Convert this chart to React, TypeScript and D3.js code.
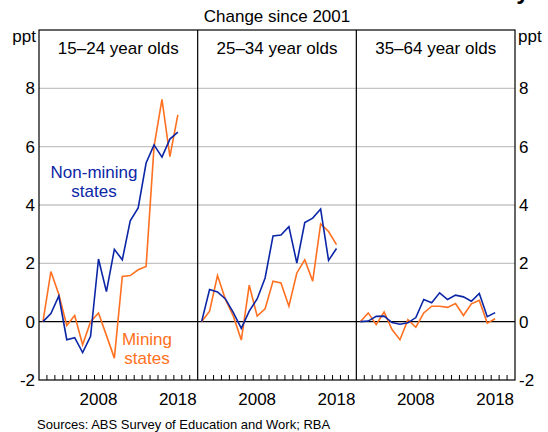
import React from "react";
import * as d3 from "d3";

const years = d3.range(2001, 2019);
const panelTitles = ["15–24 year olds", "25–34 year olds", "35–64 year olds"];

const nonMining15 = [0, 0.28, 0.88, -0.62, -0.55, -1.06, -0.5, 2.15, 1.03, 2.48, 2.12, 3.46, 3.9, 5.44, 6.06, 5.64, 6.26, 6.5];
const mining15 = [0, 1.72, 0.93, -0.13, 0.21, -0.79, 0.0, 0.3, -0.47, -1.25, 1.55, 1.58, 1.78, 1.89, 6.0, 7.62, 5.66, 7.09];
const nonMining25 = [0, 1.1, 1.02, 0.78, 0.31, -0.23, 0.36, 0.78, 1.5, 2.94, 2.97, 3.26, 2.01, 3.4, 3.55, 3.86, 2.1, 2.51];
const mining25 = [0, 0.36, 1.58, 0.76, 0.19, -0.63, 1.25, 0.19, 0.44, 1.39, 1.33, 0.53, 1.67, 2.12, 1.39, 3.35, 3.09, 2.64];
const nonMining35 = [0, 0.02, 0.18, 0.19, -0.03, -0.09, -0.04, 0.14, 0.76, 0.65, 0.99, 0.76, 0.91, 0.85, 0.7, 0.97, 0.17, 0.31];
const mining35 = [0, 0.3, -0.1, 0.33, -0.27, -0.62, 0.07, -0.19, 0.3, 0.53, 0.53, 0.49, 0.62, 0.21, 0.61, 0.73, -0.05, 0.1];

const nonMining = [nonMining15, nonMining25, nonMining35];
const mining = [mining15, mining25, mining35];

const yTicks = [-2, 0, 2, 4, 6, 8];
const gridTicks = [2, 4, 6, 8];
const xLabelYears = [2008, 2018];
const xTickYears = d3.range(2001.5, 2020, 1);

const BLUE = "#0b26a6";
const ORANGE = "#ff7020";
const FONT = "Arial, 'Liberation Sans', sans-serif";

export default function App() {
  const W = 548, H = 432;
  const left = 39, right = 515, top = 30, bottom = 380;
  const pw = (right - left) / 3;
  const y = d3.scaleLinear().domain([-2, 10]).range([bottom, top]);
  const xs = [0, 1, 2].map((i) =>
    d3.scaleLinear().domain([2000.5, 2020.5]).range([left + i * pw, left + (i + 1) * pw])
  );

  return (
    <div style={{ position: "absolute", left: 0, top: 0 }}>
      <svg width={W} height={H} style={{ display: "block", fontFamily: FONT }}>
        <rect x={0} y={0} width={W} height={H} fill="#fff" />
        {/* partial title descender */}
        <text x={523} y={-1.5} fontSize={24} fontWeight="bold" textAnchor="middle" fill="#000">y</text>
        <text x={277} y={22} fontSize={17} textAnchor="middle" fill="#000">Change since 2001</text>

        {gridTicks.map((t) => (
          <line key={"g" + t} x1={left} x2={right} y1={y(t)} y2={y(t)} stroke="#c4c4c4" strokeWidth={1.3} />
        ))}
        <line x1={left} x2={right} y1={y(0)} y2={y(0)} stroke="#000" strokeWidth={1.2} />

        {[0, 1, 2].map((i) => {
          const x = xs[i];
          const lineGen = d3
            .line<number>()
            .x((_, j) => x(years[j]))
            .y((v) => y(v));
          return (
            <g key={"p" + i}>
              <path d={lineGen(mining[i]) || ""} fill="none" stroke={ORANGE} strokeWidth={1.6} strokeLinejoin="miter" />
              <path d={lineGen(nonMining[i]) || ""} fill="none" stroke={BLUE} strokeWidth={1.6} strokeLinejoin="miter" />
              {xTickYears.map((t) => (
                <line key={"t" + t} x1={x(t)} x2={x(t)} y1={bottom} y2={bottom - 5} stroke="#000" strokeWidth={1} />
              ))}
              {xLabelYears.map((t) => (
                <text key={"xl" + t} x={x(t)} y={405} fontSize={17} textAnchor="middle" fill="#000">{t}</text>
              ))}
              <text x={left + (i + 0.5) * pw} y={54} fontSize={17} textAnchor="middle" fill="#000">{panelTitles[i]}</text>
            </g>
          );
        })}

        <rect x={left} y={top} width={right - left} height={bottom - top} fill="none" stroke="#000" strokeWidth={1.2} />
        <line x1={left + pw} x2={left + pw} y1={top} y2={bottom} stroke="#000" strokeWidth={1.2} />
        <line x1={left + 2 * pw} x2={left + 2 * pw} y1={top} y2={bottom} stroke="#000" strokeWidth={1.2} />

        {yTicks.map((t) => (
          <g key={"yt" + t}>
            <text x={35} y={y(t)} dy="0.36em" fontSize={17} textAnchor="end" fill="#000">{t}</text>
            <text x={519} y={y(t)} dy="0.36em" fontSize={17} textAnchor="start" fill="#000">{t}</text>
          </g>
        ))}
        <text x={36} y={42} fontSize={17} textAnchor="end" fill="#000">ppt</text>
        <text x={518} y={42} fontSize={17} textAnchor="start" fill="#000">ppt</text>

        <text x={94} y={178} fontSize={17} textAnchor="middle" fill={BLUE}>Non-mining</text>
        <text x={94} y={197} fontSize={17} textAnchor="middle" fill={BLUE}>states</text>
        <text x={147} y={345} fontSize={17} textAnchor="middle" fill={ORANGE}>Mining</text>
        <text x={147} y={364} fontSize={17} textAnchor="middle" fill={ORANGE}>states</text>

        <text x={37} y={429} fontSize={13} textAnchor="start" fill="#000">Sources: ABS Survey of Education and Work; RBA</text>
      </svg>
    </div>
  );
}
